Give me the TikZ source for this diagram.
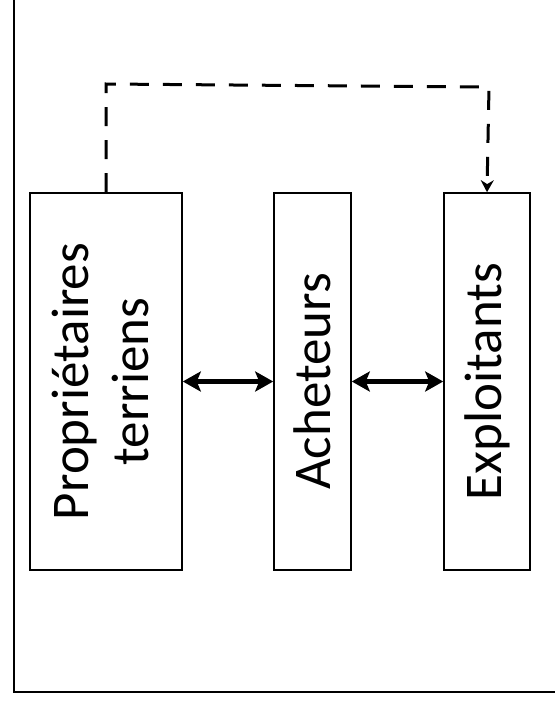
\documentclass[tikz,border=0pt]{standalone}
\usepackage{fontspec}
\setmainfont{Carlito}
\usetikzlibrary{arrows.meta,calc}
\begin{document}
\begin{tikzpicture}[x=1pt,y=-1pt,
  box/.style={draw, line width=1.6pt, minimum height=377pt, inner sep=0pt,
    font=\fontsize{53}{64}\selectfont, align=center},
  biarrow/.style={line width=5pt, {Stealth[length=18pt,width=20pt,inset=4pt]}-{Stealth[length=18pt,width=20pt,inset=4pt]}},
  dasharrow/.style={line width=3pt, dash pattern=on 19pt off 14pt, -{Stealth[length=12pt,width=13pt]}}]
\useasboundingbox (0,0) rectangle (555,707);
% outer frame
\draw[line width=2pt] (14,0) -- (14,692) -- (555,692);
% boxes
\node[box, minimum width=152pt] (p) at (106,381.5) {\rotatebox{90}{\begin{tabular}{c}Propriétaires\\[-4pt] terriens\end{tabular}}};
\node[box, minimum width=77pt] (a) at (312.5,381.5) {\rotatebox{90}{Acheteurs}};
\node[box, minimum width=86pt] (e) at (487,381.5) {\rotatebox{90}{Exploitants}};
% arrows
\draw[biarrow] (p.east) -- (a.west);
\draw[biarrow] (a.east) -- (e.west);
\coordinate (c1) at (106,84);
\coordinate (c2) at (489,87);
\draw[dasharrow] (p.north) -- (c1) -- (c2) -- (e.north);
\end{tikzpicture}
\end{document}
